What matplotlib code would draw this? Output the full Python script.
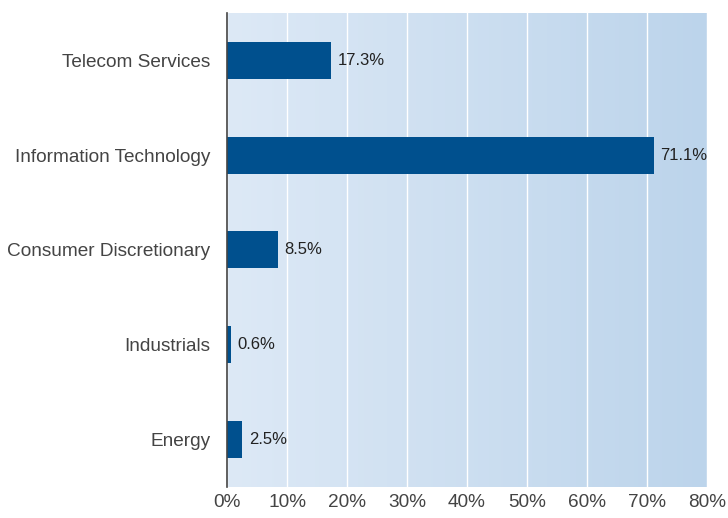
import numpy as np
import matplotlib.pyplot as plt
from matplotlib.colors import LinearSegmentedColormap

plt.rcParams['font.family'] = ['Liberation Sans', 'DejaVu Sans']

sectors = ['Telecom Services', 'Information Technology', 'Consumer Discretionary',
           'Industrials', 'Energy']
weights = [17.3, 71.1, 8.5, 0.6, 2.5]
ticks = [0, 10, 20, 30, 40, 50, 60, 70, 80]

fig = plt.figure(figsize=(7.28, 5.18), dpi=100)
ax = fig.add_axes([0.312, 0.06, 0.659, 0.915])

# background gradient
bg = LinearSegmentedColormap.from_list('bg', ['#dde9f6', '#bcd4eb'])
grad = np.linspace(0, 1, 256).reshape(1, -1)
ax.imshow(grad, cmap=bg, aspect='auto', extent=[0, 80, -0.5, 4.5], zorder=0)

y = np.arange(len(sectors))[::-1]
ax.barh(y, weights, height=0.39, color='#00508e', zorder=3)
for yi, w in zip(y, weights):
    ax.text(w + 1.1, yi, f'{w:.1f}%', va='center', ha='left',
            fontsize=12, color='#222222', zorder=4)

ax.set_xlim(0, 80)
ax.set_ylim(-0.5, 4.5)
ax.set_xticks(ticks)
ax.set_xticklabels([f'{t}%' for t in ticks])
ax.set_yticks(y)
ax.set_yticklabels(sectors)
ax.xaxis.grid(True, color='white', linewidth=1.0, zorder=1)
ax.set_axisbelow(False)

for s in ['top', 'right', 'bottom']:
    ax.spines[s].set_visible(False)
ax.spines['left'].set_color('#444444')
ax.spines['left'].set_linewidth(1.2)
ax.spines['left'].set_zorder(5)
ax.tick_params(axis='both', length=0, labelsize=13.7, colors='#444444')
ax.tick_params(axis='y', pad=12)
ax.tick_params(axis='x', pad=5)

fig.savefig('out.png', dpi=100)
